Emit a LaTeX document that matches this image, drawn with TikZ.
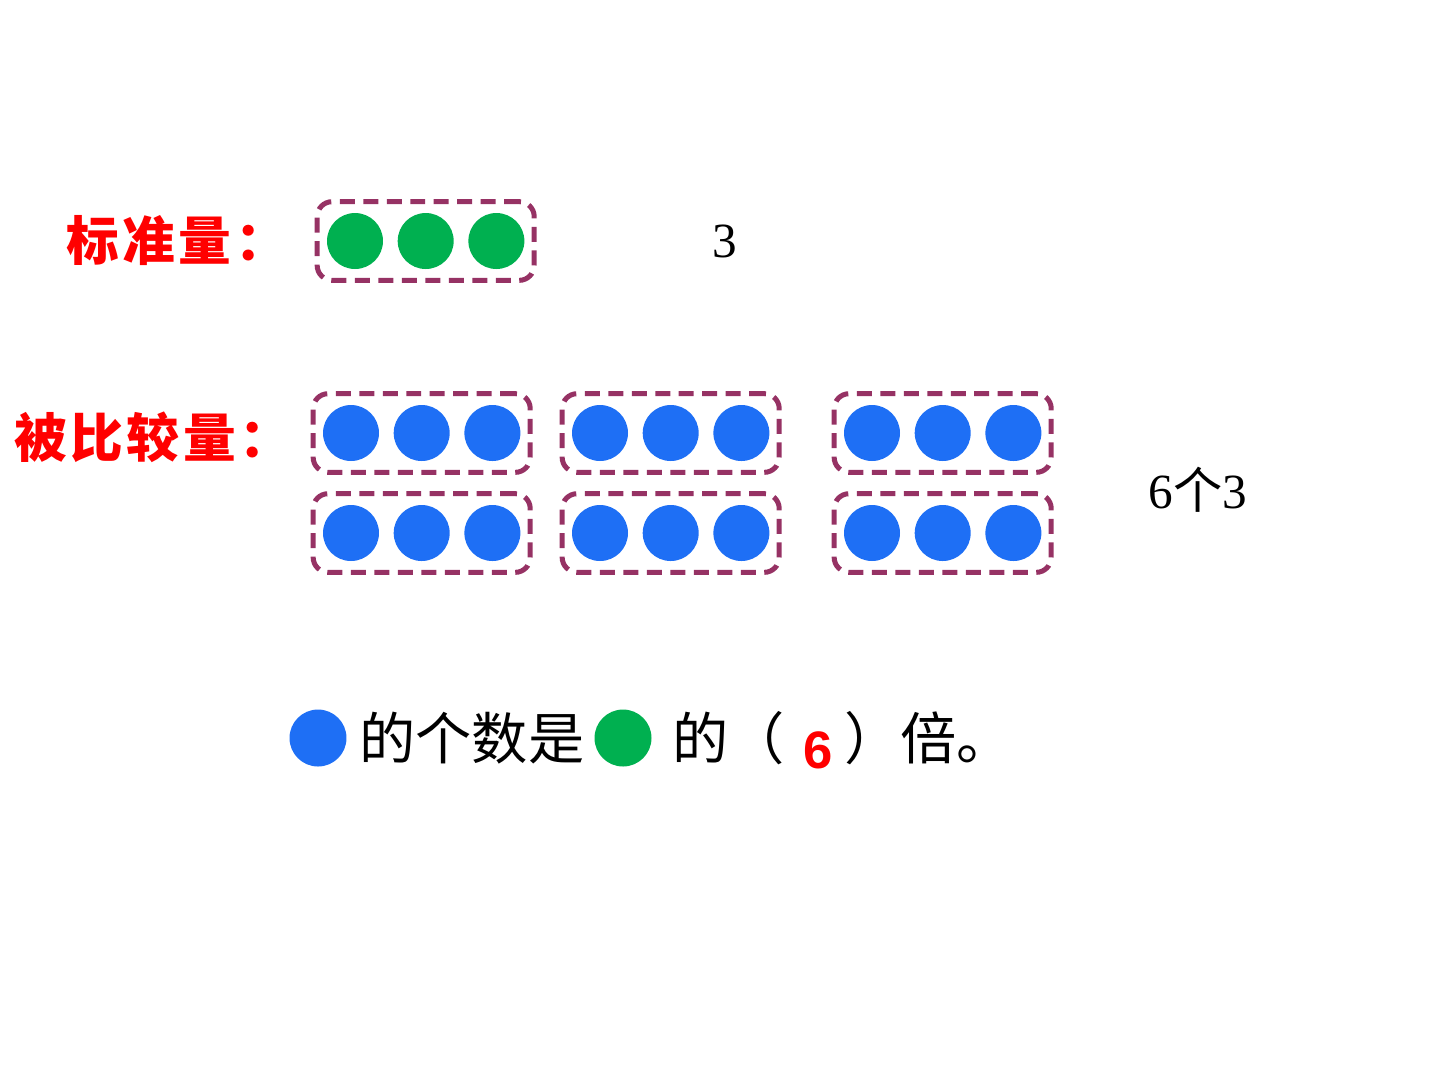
\documentclass[tikz,border=0pt]{standalone}
\usepackage{xcolor}
\usepackage{fontspec}
\setmainfont{Liberation Serif}
\newfontfamily\cjk{Noto Sans CJK SC}
\newfontfamily\numsans{Liberation Sans}
\usepackage{tikz}
\usetikzlibrary{positioning, fit}

\definecolor{dotblue}{RGB}{30,111,245}
\definecolor{dotgreen}{RGB}{0,176,80}
\definecolor{boxplum}{RGB}{150,50,100}

\begin{document}
\begin{tikzpicture}[x=0.02cm, y=-0.02cm,
  dot/.style={circle, minimum size=1.12cm, inner sep=0pt},
  group/.style={rectangle, draw=boxplum, line width=0.1cm, dash pattern=on 0.3cm off 0.17cm, rounded corners=0.3cm, inner xsep=0.19cm, inner ysep=0.22cm},
  heading/.style={anchor=west, inner sep=0pt, text=red, font=\cjk\bfseries\fontsize{30}{36}\selectfont},
  sentence/.style={inner sep=0pt, font=\cjk\fontsize{32}{38}\selectfont},
  count/.style={inner sep=0pt, font=\fontsize{28}{34}\selectfont}
]
  \useasboundingbox (0,0) rectangle (1440,1080);

  % standard amount
  \node[heading] (stdlbl) at (66,241) {标\kern2pt 准\kern2pt 量\kern2pt ：};
  \node[dot, fill=dotgreen] (s1) at (355,241) {};
  \node[dot, fill=dotgreen, right=0.28cm of s1] (s2) {};
  \node[dot, fill=dotgreen, right=0.28cm of s2] (s3) {};
  \node[group, fit=(s1)(s3)] (std) {};
  \node[count] (three) at (725,241) {3};

  % compared amount
  \node[heading] (cmplbl) at (14,437) {被\kern2pt 比\kern2pt 较\kern2pt 量\kern2pt ：};
  \foreach \gx/\gy/\gn in {351/433/a, 600/433/b, 872/433/c, 351/533/d, 600/533/e, 872/533/f} {
    \node[dot, fill=dotblue] (\gn1) at (\gx,\gy) {};
    \node[dot, fill=dotblue, right=0.28cm of \gn1] (\gn2) {};
    \node[dot, fill=dotblue, right=0.28cm of \gn2] (\gn3) {};
    \node[group, fit=(\gn1)(\gn3)] (box\gn) {};
  }
  \node[count] (sixthree) at (1198,490) {6{\cjk 个}3};

  % conclusion
  \node[dot, fill=dotblue, minimum size=1.14cm] (qblue) at (318,738) {};
  \node[sentence, anchor=west] (q1) at (359,738) {的个数是};
  \node[dot, fill=dotgreen, minimum size=1.14cm] (qgreen) at (623,738) {};
  \node[sentence, anchor=west] (q2) at (672,738) {的（};
  \node[inner sep=0pt, text=red, font=\numsans\bfseries\fontsize{30}{36}\selectfont] (answer) at (818,750) {6};
  \node[sentence, anchor=west] (q3) at (844,738) {）倍。};
\end{tikzpicture}
\end{document}
